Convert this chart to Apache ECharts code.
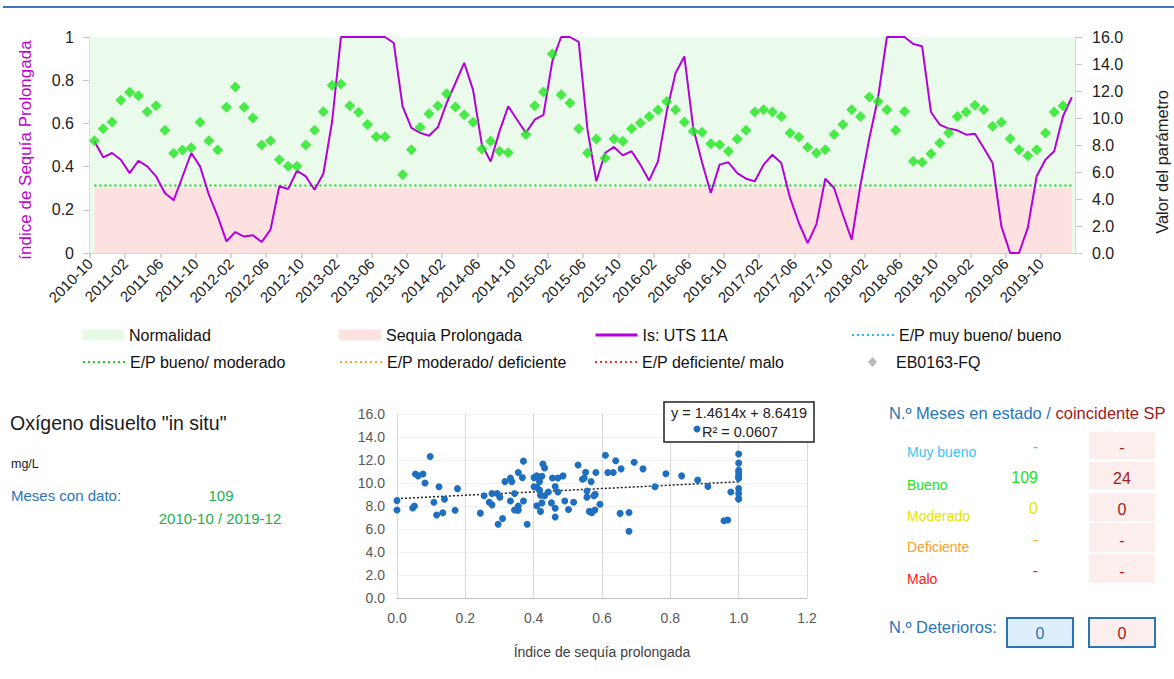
<!DOCTYPE html>
<html><head><meta charset="utf-8">
<script src="https://cdn.jsdelivr.net/npm/echarts@6/dist/echarts.min.js"></script>
<style>html,body{margin:0;padding:0;background:#fff;}#c{width:1174px;height:679px;}</style>
</head><body><div id="c"></div>
<script>
// ---------- DATA ----------
// monthly, first month 2010-10; Is index runs to 2020-01, parameter to 2019-12
const tickLabels = ['2010-10','2011-02','2011-06','2011-10','2012-02','2012-06','2012-10','2013-02','2013-06','2013-10',
  '2014-02','2014-06','2014-10','2015-02','2015-06','2015-10','2016-02','2016-06','2016-10','2017-02','2017-06','2017-10',
  '2018-02','2018-06','2018-10','2019-02','2019-06','2019-10'];
const isIndex = [0.517,0.443,0.463,0.432,0.370,0.427,0.401,0.355,0.278,0.244,0.353,0.463,
  0.401,0.27,0.17,0.054,0.097,0.076,0.082,0.051,0.108,0.309,0.296,0.381,
  0.355,0.293,0.367,0.61,1,1,1,1,1,1,0.972,0.679,
  0.579,0.556,0.543,0.582,0.694,0.787,0.880,0.755,0.502,0.424,0.563,0.679,
  0.617,0.556,0.617,0.640,0.887,1,1,0.977,0.57,0.332,0.463,0.491,
  0.452,0.471,0.409,0.336,0.424,0.656,0.833,0.910,0.58,0.42,0.278,0.409,
  0.420,0.370,0.344,0.332,0.409,0.455,0.417,0.255,0.139,0.046,0.134,0.344,
  0.301,0.177,0.062,0.316,0.53,0.72,1,1,1,0.968,0.957,0.653,
  0.594,0.576,0.568,0.548,0.552,0.486,0.417,0.123,0,0,0.116,0.355,
  0.432,0.471,0.633,0.721];
const oxygen = [8.32,9.21,9.70,11.31,11.90,11.65,10.47,10.91,9.09,7.38,7.63,7.80,
  9.68,8.32,7.63,10.79,12.30,10.79,10.00,8.00,8.32,6.91,6.42,6.42,
  8.00,9.09,10.47,12.42,12.52,10.91,10.42,9.51,8.62,8.62,null,5.80,
  7.65,9.31,10.32,10.91,11.80,10.81,10.25,9.68,7.70,8.27,7.53,7.43,
  null,8.77,10.91,11.93,14.74,11.73,11.11,9.21,7.41,8.44,7.04,8.44,
  8.27,9.21,9.63,10.12,10.59,11.23,10.62,9.70,9.01,8.94,8.10,8.02,
  7.53,8.44,9.09,10.44,10.62,10.44,10.12,8.89,8.59,7.83,7.41,7.65,
  8.77,9.51,10.62,10.12,11.56,11.23,10.62,9.09,10.49,6.79,6.72,7.36,
  8.15,8.89,10.12,10.44,10.94,10.62,9.38,9.68,8.47,7.65,7.21,7.65,
  8.89,10.44,10.91,null];
const thresholdNames = ['E/P muy bueno/ bueno','E/P bueno/ moderado','E/P moderado/ deficiente','E/P deficiente/ malo'];
const thresholdValues = [null, 5.0, null, null];
const droughtLimit = [0.3];
const scatterExcludedMonths = [52];   // month not shown in the scatter panel
const trendCoef = [1.4614, 8.6419];
const statusNames = ['Muy bueno','Bueno','Moderado','Deficiente','Malo'];
const statusMonths = ['-','109','0','-','-'];
const statusSP = ['-','24','0','-','-'];
const deterioros = ['0','0'];

// ---------- STYLE ----------
const FONT = '"Liberation Sans", Arial, sans-serif';
const thresholdColors = ['#2ab8ee','#1fd01f','#ffa526','#ff2b2b'];
const statusColors = ['#38c6f4','#20e020','#e4e400','#ffa024','#ff1414'];
const blue = '#2a74b8', darkRed = '#a01a1a';
const XMAX = 111.86;

const tickPos = tickLabels.map((_, i) => i * 4);
const firstX = 0.5, lastX = isIndex.length - 0.5;

const isData = isIndex.map((v, i) => [i + 0.5, v]);
const oxData = [];
oxygen.forEach((v, i) => { if (v !== null) oxData.push([i + 0.5, v]); });
const scatterData = [];
oxygen.forEach((v, i) => { if (v !== null && scatterExcludedMonths.indexOf(i) < 0) scatterData.push([isIndex[i], v]); });

const chart = echarts.init(document.getElementById('c'), null, {renderer: 'svg'});

function legendAt(left, top, item, extra) {
  return Object.assign({
    left: left, top: top, selectedMode: false, itemWidth: 42, itemHeight: 11, itemGap: 0,
    padding: 0, textStyle: {fontSize: 16, color: '#111', fontFamily: FONT},
    data: [item]
  }, extra || {});
}

const series = [
  {name: 'Normalidad', type: 'line', xAxisIndex: 0, yAxisIndex: 0, data: [[0, 1], [XMAX, 1]],
   symbol: 'none', lineStyle: {opacity: 0, width: 0}, areaStyle: {color: '#ebfbeb', opacity: 1}, silent: true, z: 1},
  {name: 'Sequia Prolongada', type: 'line', xAxisIndex: 0, yAxisIndex: 0,
   data: [[firstX, droughtLimit[0]], [lastX, droughtLimit[0]]],
   symbol: 'none', lineStyle: {opacity: 0, width: 0}, areaStyle: {color: '#fde1e1', opacity: 1}, silent: true, z: 2}
];
thresholdNames.forEach((n, i) => {
  const v = thresholdValues[i];
  series.push({name: n, type: 'line', xAxisIndex: 0, yAxisIndex: 1,
    data: v === null ? [] : [[firstX, v], [lastX, v]], symbol: 'none', silent: true, z: 3,
    itemStyle: {color: thresholdColors[i]},
    lineStyle: {color: thresholdColors[i], width: 2, type: [2, 3]}});
});
series.push({name: 'Is: UTS 11A', type: 'line', xAxisIndex: 0, yAxisIndex: 0, data: isData,
  symbol: 'none', itemStyle: {color: '#b400dc'}, lineStyle: {color: '#b400dc', width: 2}, z: 5});
series.push({name: 'EB0163-FQ', type: 'scatter', xAxisIndex: 0, yAxisIndex: 1, data: oxData,
  symbol: 'diamond', symbolSize: 11, itemStyle: {color: '#1ee61e'}, z: 6});
series.push({name: 'scatter', type: 'scatter', xAxisIndex: 1, yAxisIndex: 2, data: scatterData,
  symbolSize: 7, itemStyle: {color: '#1f6fc0', opacity: 1}, z: 5});
series.push({name: 'trend', type: 'line', xAxisIndex: 1, yAxisIndex: 2,
  data: [[0, trendCoef[1]], [1, trendCoef[0] + trendCoef[1]]], symbol: 'none', silent: true,
  lineStyle: {color: '#222', width: 1.5, type: [2, 2]}, z: 4});

function txt(x, y, text, size, color, extra) {
  const e = Object.assign({}, extra || {});
  const st = e.style || {};
  delete e.style;
  return Object.assign({type: 'text', x: x, y: y, silent: true,
    style: Object.assign({text: text, fill: color, font: size + 'px ' + FONT,
      align: 'left', verticalAlign: 'middle', textAlign: 'left', textVerticalAlign: 'middle'}, st)}, e);
}
const C = {style: {align: 'center', textAlign: 'center'}};
const graphics = [
  {type: 'rect', shape: {x: 3, y: 6, width: 1171, height: 2}, style: {fill: '#4472c4'}, silent: true},
  txt(25, 150, 'índice de Sequía Prolongada', 17, '#c000cc', {rotation: Math.PI / 2, style: {align: 'center', textAlign: 'center'}}),
  txt(1162, 162, 'Valor del parámetro', 16.5, '#222', {rotation: Math.PI / 2, style: {align: 'center', textAlign: 'center'}}),
  // left info panel
  txt(10, 423, 'Oxígeno disuelto "in situ"', 19.5, '#1a1a1a'),
  txt(11, 464, 'mg/L', 12.5, '#1a1a1a'),
  txt(11, 495, 'Meses con dato:', 15, blue),
  txt(221, 495, statusMonths[1], 15, '#22b04c', C),
  txt(220, 518, '2010-10 / 2019-12', 15, '#22b04c', C),
  // equation box
  {type: 'rect', shape: {x: 664, y: 402, width: 150, height: 40}, style: {fill: '#fff', stroke: '#222', lineWidth: 1.5}, z: 50, silent: true},
  txt(739, 413, 'y = ' + trendCoef[0].toFixed(4) + 'x + ' + trendCoef[1].toFixed(4), 14.5, '#222', Object.assign({z: 51}, C)),
  txt(740, 432, 'R² = 0.0607', 14.5, '#222', Object.assign({z: 51}, C)),
  {type: 'circle', shape: {cx: 697, cy: 429, r: 3.5}, style: {fill: '#1f6fc0'}, z: 52, silent: true},
  // right panel
  {type: 'text', x: 889, y: 413, silent: true, style: {text: '{a|N.º Meses en estado / }{b|coincidente SP}',
    verticalAlign: 'middle', textVerticalAlign: 'middle',
    rich: {a: {fill: blue, font: '16.5px ' + FONT}, b: {fill: darkRed, font: '16.5px ' + FONT}}}},
  txt(889, 627, 'N.º Deterioros:', 16.5, blue),
  {type: 'rect', shape: {x: 1007, y: 618, width: 66, height: 29}, style: {fill: '#deeefc', stroke: blue, lineWidth: 2}, silent: true},
  {type: 'rect', shape: {x: 1089, y: 618, width: 66, height: 29}, style: {fill: '#fdeeee', stroke: blue, lineWidth: 2}, silent: true},
  txt(1040, 633, deterioros[0], 16, blue, C),
  txt(1122, 633, deterioros[1], 16, darkRed, C)
];
const rowLabelY = [452, 485, 516, 547, 579];
const rowValY = [446, 477, 508, 539, 570];
const boxY = [432, 462, 493, 523, 554];
const boxH = [27, 27, 28, 29, 29];
statusNames.forEach((n, i) => {
  graphics.push(txt(907, rowLabelY[i], n, 14, statusColors[i]));
  graphics.push(txt(1038, rowValY[i], statusMonths[i], 16, statusColors[i], {style: {align: 'right', textAlign: 'right'}}));
  graphics.push({type: 'rect', shape: {x: 1089, y: boxY[i], width: 66, height: boxH[i]}, style: {fill: '#fdeeee'}, silent: true});
  graphics.push(txt(1122, rowValY[i] + 1, statusSP[i], 16, darkRed, C));
});

const noSym = {opacity: 0};
const option = {
  animation: false,
  textStyle: {fontFamily: FONT},
  grid: [
    {left: 90, top: 37, width: 985, height: 216},
    {left: 397, top: 414, width: 410, height: 184}
  ],
  xAxis: [
    {type: 'value', gridIndex: 0, min: 0, max: XMAX,
     axisLine: {show: true, lineStyle: {color: '#c8c8c8', width: 1.5}},
     axisTick: {show: true, customValues: tickPos, length: 5, lineStyle: {color: '#c8c8c8', width: 1.5}},
     axisLabel: {customValues: tickPos, rotate: 45, margin: 8, fontSize: 15, color: '#222',
       formatter: v => tickLabels[Math.round(v / 4)] || ''},
     splitLine: {show: false}},
    {type: 'value', gridIndex: 1, min: 0, max: 1.2, interval: 0.2,
     axisLine: {show: true, lineStyle: {color: '#bfbfbf'}}, axisTick: {show: false},
     axisLabel: {fontSize: 14, color: '#595959', margin: 13, formatter: v => v.toFixed(1)},
     splitLine: {show: true, lineStyle: {color: '#d9d9d9'}},
     name: 'Índice de sequía prolongada', nameLocation: 'middle', nameGap: 47,
     nameTextStyle: {fontSize: 14, color: '#404040'}}
  ],
  yAxis: [
    {type: 'value', gridIndex: 0, position: 'left', min: 0, max: 1, interval: 0.2,
     axisLine: {show: true, lineStyle: {color: '#d0d0d0', width: 1.5}},
     axisTick: {show: true, length: 7, lineStyle: {color: '#c8c8c8'}},
     axisLabel: {fontSize: 16, color: '#222', margin: 16}, splitLine: {show: false}},
    {type: 'value', gridIndex: 0, position: 'right', min: 0, max: 16, interval: 2,
     axisLine: {show: true, lineStyle: {color: '#d0d0d0', width: 1.5}},
     axisTick: {show: true, length: 7, lineStyle: {color: '#c8c8c8'}},
     axisLabel: {fontSize: 16, color: '#222', margin: 17, formatter: v => v.toFixed(1)}, splitLine: {show: false}},
    {type: 'value', gridIndex: 1, min: 0, max: 16, interval: 2,
     axisLine: {show: false}, axisTick: {show: false},
     axisLabel: {fontSize: 14, color: '#595959', margin: 12, formatter: v => v.toFixed(1)},
     splitLine: {show: true, lineStyle: {color: '#f0f0f0'}}}
  ],
  legend: [
    legendAt(82, 327, {name: 'Normalidad', icon: 'rect', itemStyle: {color: '#e6fae6'}}),
    legendAt(339, 327, {name: 'Sequia Prolongada', icon: 'rect', itemStyle: {color: '#fde1e1'}}),
    legendAt(594, 327, {name: 'Is: UTS 11A', lineStyle: {width: 3}, itemStyle: noSym}),
    legendAt(851, 327, {name: thresholdNames[0], itemStyle: noSym}),
    legendAt(82, 354, {name: thresholdNames[1], itemStyle: noSym}),
    legendAt(339, 354, {name: thresholdNames[2], itemStyle: noSym}),
    legendAt(594, 354, {name: thresholdNames[3], itemStyle: noSym}),
    legendAt(868, 354, {name: 'EB0163-FQ', icon: 'diamond', itemStyle: {color: '#a6a6a6'}},
      {itemWidth: 9, itemHeight: 10, textStyle: {fontSize: 16, color: '#111', fontFamily: FONT, padding: [0, 0, 0, 14]}})
  ],
  graphic: graphics,
  series: series
};
chart.setOption(option);
</script></body></html>
